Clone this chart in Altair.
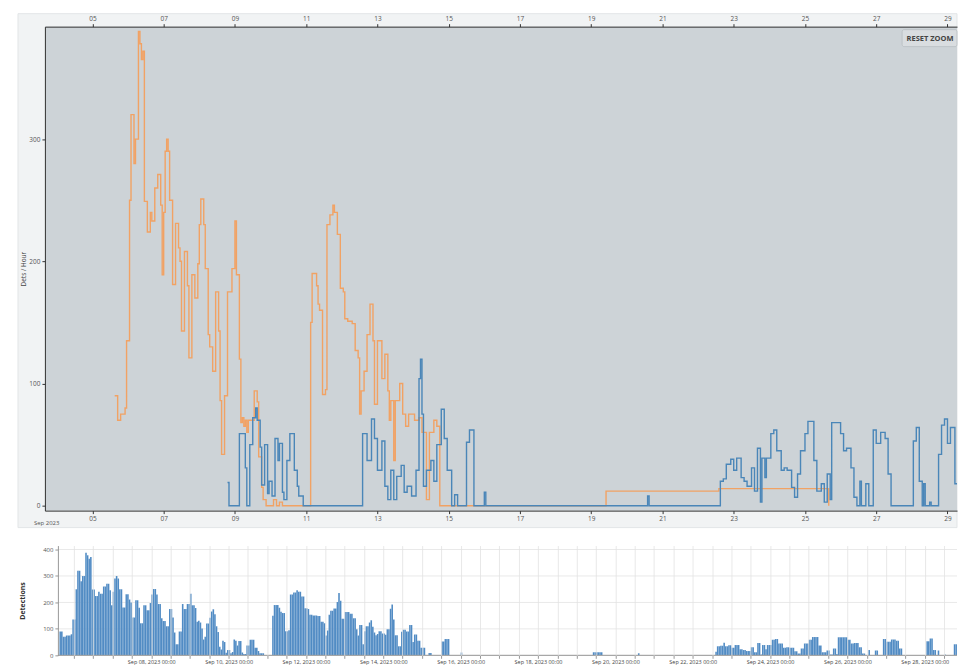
import altair as alt
import pandas as pd

YEAR = "2023-"

orange_t = [
    "09-05 15:00", "09-05 17:00", "09-05 19:00", "09-05 22:00", "09-05 23:00",
    "09-06 01:00", "09-06 02:00", "09-06 04:00", "09-06 05:00", "09-06 07:00", "09-06 08:00", "09-06 09:00", "09-06 10:00", "09-06 11:00",
    "09-06 13:00", "09-06 15:00", "09-06 16:00", "09-06 18:00", "09-06 20:00", "09-06 22:00", "09-06 23:00",
    "09-07 00:00", "09-07 01:00", "09-07 02:00", "09-07 03:00", "09-07 04:00", "09-07 06:00", "09-07 08:00", "09-07 10:00",
    "09-07 11:00", "09-07 12:00", "09-07 14:00", "09-07 16:00", "09-07 17:00", "09-07 19:00", "09-07 21:00", "09-07 23:00",
    "09-08 00:00", "09-08 01:00", "09-08 03:00", "09-08 04:00", "09-08 06:00", "09-08 07:00", "09-08 09:00", "09-08 11:00",
    "09-08 13:00", "09-08 14:00", "09-08 15:00", "09-08 17:00", "09-08 19:00", "09-08 22:00",
    "09-09 00:00", "09-09 01:00", "09-09 03:00", "09-09 04:00", "09-09 05:00", "09-09 06:00", "09-09 07:00", "09-09 08:00",
    "09-09 09:00", "09-09 13:00", "09-09 15:00", "09-09 16:00", "09-09 18:00", "09-09 19:00", "09-09 21:00",
    "09-10 02:00", "09-10 04:00", "09-10 06:00", "09-10 08:00",
    "09-11 03:00", "09-11 04:00", "09-11 07:00", "09-11 08:00", "09-11 09:00", "09-11 11:00", "09-11 13:00", "09-11 14:00",
    "09-11 16:00", "09-11 18:00", "09-11 19:00", "09-11 21:00", "09-11 23:00",
    "09-12 01:00", "09-12 02:00", "09-12 04:00", "09-12 07:00", "09-12 09:00", "09-12 11:00", "09-12 12:00", "09-12 13:00",
    "09-12 15:00", "09-12 17:00", "09-12 19:00", "09-12 21:00", "09-12 22:00",
    "09-13 00:00", "09-13 03:00", "09-13 05:00", "09-13 07:00", "09-13 08:00", "09-13 09:00", "09-13 11:00", "09-13 12:00",
    "09-13 15:00", "09-13 17:00", "09-13 19:00", "09-13 21:00",
    "09-14 01:00", "09-14 04:00", "09-14 06:00", "09-14 09:00", "09-14 11:00", "09-14 14:00", "09-14 16:00", "09-14 18:00",
    "09-19 10:00", "09-22 14:00", "09-25 16:00",
]
orange_v = [
    90, 70, 75, 80, 135,
    250, 320, 280, 300, 388, 378, 365, 372, 249,
    224, 240, 233, 260, 271, 246, 189,
    240, 290, 300, 290, 250, 181, 231, 211,
    200, 143, 208, 180, 121, 189, 170, 198,
    230, 251, 230, 194, 140, 130, 110, 175,
    143, 86, 42, 90, 175, 194,
    233, 189, 120, 68, 72, 65, 70, 60,
    70, 94, 85, 40, 15, 5, 0,
    5, 0, 3, 0,
    150, 190, 180, 165, 160, 91, 95, 230,
    238, 246, 240, 222, 178,
    175, 153, 151, 149, 127, 121, 75, 94,
    110, 140, 165, 135, 83,
    135, 104, 124, 94, 70, 86, 37, 86,
    100, 75, 65, 75,
    70, 72, 60, 5, 60, 70, 65, 0,
    12, 14, 0,
]

blue_t = [
    "09-08 19:00", "09-08 20:00", "09-09 03:00", "09-09 07:00", "09-09 08:00", "09-09 10:00", "09-09 12:00",
    "09-09 14:00", "09-09 15:00", "09-09 17:00", "09-09 18:00", "09-09 20:00", "09-09 22:00", "09-09 23:00",
    "09-10 01:00", "09-10 03:00", "09-10 05:00", "09-10 06:00", "09-10 08:00", "09-10 09:00", "09-10 11:00",
    "09-10 13:00", "09-10 16:00", "09-10 18:00", "09-10 19:00", "09-10 22:00",
    "09-12 14:00", "09-12 17:00", "09-12 20:00", "09-12 22:00",
    "09-13 00:00", "09-13 03:00", "09-13 05:00", "09-13 07:00", "09-13 09:00", "09-13 11:00", "09-13 13:00",
    "09-13 16:00", "09-13 18:00", "09-13 20:00", "09-13 23:00",
    "09-14 02:00", "09-14 04:00", "09-14 05:00", "09-14 06:00", "09-14 07:00", "09-14 09:00", "09-14 12:00",
    "09-14 14:00", "09-14 16:00", "09-14 19:00", "09-14 21:00", "09-14 23:00",
    "09-15 02:00", "09-15 04:00", "09-15 06:00", "09-15 12:00", "09-15 14:00", "09-15 17:00",
    "09-16 00:00", "09-16 01:00", "09-20 14:00", "09-20 15:00",
    "09-22 15:00", "09-22 17:00", "09-22 19:00", "09-22 22:00",
    "09-23 00:00", "09-23 02:00", "09-23 05:00", "09-23 07:00", "09-23 09:00", "09-23 12:00", "09-23 14:00",
    "09-23 16:00", "09-23 18:00", "09-23 19:00", "09-23 21:00", "09-23 22:00",
    "09-24 01:00", "09-24 03:00", "09-24 05:00", "09-24 08:00", "09-24 10:00", "09-24 12:00", "09-24 15:00",
    "09-24 17:00", "09-24 19:00", "09-24 21:00",
    "09-25 00:00", "09-25 02:00", "09-25 06:00", "09-25 08:00", "09-25 11:00", "09-25 13:00", "09-25 15:00",
    "09-25 17:00", "09-25 18:00",
    "09-26 00:00", "09-26 02:00", "09-26 04:00", "09-26 07:00", "09-26 09:00", "09-26 11:00", "09-26 13:00",
    "09-26 14:00", "09-26 17:00", "09-26 19:00", "09-26 22:00",
    "09-27 00:00", "09-27 03:00", "09-27 06:00", "09-27 08:00", "09-27 10:00",
    "09-28 01:00", "09-28 03:00", "09-28 05:00", "09-28 07:00", "09-28 08:00", "09-28 09:00", "09-28 12:00",
    "09-28 13:00", "09-28 18:00", "09-28 20:00", "09-28 22:00",
    "09-29 00:00", "09-29 02:00", "09-29 05:00", "09-29 07:00", "09-29 09:00", "09-29 11:00",
]
blue_v = [
    19, 0, 59, 31, 0, 50, 72,
    80, 70, 48, 17, 50, 10, 20,
    8, 55, 37, 51, 11, 5, 37,
    59, 29, 16, 8, 0,
    59, 37, 71, 55,
    29, 53, 16, 5, 29, 5, 24,
    33, 11, 16, 8,
    29, 104, 120, 75, 16, 29, 37,
    20, 50, 79, 55, 29,
    0, 9, 0, 52, 62, 0,
    11, 0, 8, 0,
    20, 22, 34, 38,
    29, 39, 23, 20, 16, 31, 12,
    47, 3, 39, 23, 39,
    59, 62, 45, 29, 31, 29, 15,
    7, 26, 45,
    59, 69, 37, 12, 18, 3, 26,
    5, 68,
    59, 45, 47, 31, 7, 0, 20,
    0, 18, 0, 62,
    51, 60, 55, 26, 0,
    53, 64, 20, 0, 18, 0, 3,
    0, 42, 66, 71,
    51, 64, 18, 7, 15, 15,
]

top_ticks_days = [5, 7, 9, 11, 13, 15, 17, 19, 21, 23, 25, 27, 29]
bottom_label_days = [8, 10, 12, 14, 16, 18, 20, 22, 24, 26, 28]
y_ticks_top = [0, 100, 200, 300]
y_ticks_bottom = [0, 100, 200, 300, 400]

ORANGE = "#f1a264"
BLUE = "#4a86b8"
BAR = "#4a87c2"


def to_df(times, vals, name):
    return pd.DataFrame({
        "time": pd.to_datetime([YEAR + t for t in times]),
        "value": vals,
        "series": name,
    })


orange = to_df(orange_t, orange_v, "orange")
blue = to_df(blue_t, blue_v, "blue")

# hourly detections = both series summed per hour
idx = pd.date_range("2023-09-05 14:00", "2023-09-29 11:00", freq="h")


def hourly(df):
    s = df.set_index("time")["value"].resample("h").ffill(limit=5)
    return s.reindex(idx).fillna(0)


tot = hourly(orange) + hourly(blue)
bars = pd.DataFrame({"time": idx, "time2": idx + pd.Timedelta(hours=1), "count": tot.values})
bars = bars[bars["count"] > 0]

W1, H1 = 914, 485
W2, H2 = 914, 110
OFF = 13  # bottom plot's y axis sits 13px right of the top one

FONT = "Open Sans"

top_scale = alt.Scale(
    domain=[alt.DateTime(year=2023, month=9, date=3, hours=16),
            alt.DateTime(year=2023, month=9, date=29, hours=6, minutes=25)],
    nice=False,
)
top_vals = [alt.DateTime(year=2023, month=9, date=d) for d in top_ticks_days]
yscale_top = alt.Scale(domain=[-4, 392], nice=False)

axis_common = dict(labelFontSize=6.5, labelColor="#555", labelFont=FONT, tickColor="#333",
                   domainColor="#333", tickSize=3, grid=False, zindex=1, labelPadding=2)

x_bottom_axis = alt.Axis(orient="bottom", values=top_vals, format="%d", title=None, **axis_common)
x_top_axis = alt.Axis(orient="top", values=top_vals, format="%d", title=None, **axis_common)
y_axis_top = alt.Axis(values=y_ticks_top, title="Dets / Hour", titleFontSize=6.5, titleFontWeight="normal",
                      titleColor="#444", titleFont=FONT, titlePadding=2, **axis_common)

one = pd.DataFrame({"k": [0]})

panel = alt.Chart(one).mark_rect(fill="#f1f3f4", stroke="#e2e5e7", clip=False).encode(
    x=alt.value(-27), x2=alt.value(W1), y=alt.value(-13), y2=alt.value(H1 + 17))
plotbg = alt.Chart(one).mark_rect(fill="#cdd3d7").encode(
    x=alt.value(0), x2=alt.value(W1), y=alt.value(0), y2=alt.value(H1))

orange_line = alt.Chart(orange).mark_line(interpolate="step-after", strokeWidth=1.4, clip=True,
                                           color=ORANGE).encode(
    x=alt.X("time:T", scale=top_scale, axis=x_top_axis),
    y=alt.Y("value:Q", scale=yscale_top, axis=y_axis_top),
)
blue_line = alt.Chart(blue).mark_line(interpolate="step-after", strokeWidth=1.4, clip=True,
                                       color=BLUE).encode(
    x=alt.X("time:T", scale=top_scale, axis=x_bottom_axis),
    y=alt.Y("value:Q", scale=yscale_top, axis=y_axis_top),
)

sep_label = alt.Chart(pd.DataFrame({"t": ["Sep 2023"]})).mark_text(
    align="left", baseline="middle", fontSize=6, color="#555", font=FONT).encode(
    x=alt.value(-11), y=alt.value(H1 + 12), text="t:N")

btn = alt.Chart(one).mark_rect(fill="#d9dde0", stroke="#b8bec2", strokeWidth=0.8, cornerRadius=2).encode(
    x=alt.value(W1 - 55), x2=alt.value(W1), y=alt.value(3), y2=alt.value(20))
btn_text = alt.Chart(pd.DataFrame({"t": ["RESET ZOOM"]})).mark_text(
    align="center", baseline="middle", fontSize=7.5, fontWeight="bold", color="#444", font=FONT).encode(
    x=alt.value(W1 - 27), y=alt.value(12), text="t:N")

top = alt.layer(panel, plotbg, orange_line, blue_line, sep_label, btn, btn_text).resolve_axis(
    x="independent").properties(width=W1, height=H1)

# bottom bar chart
bot_scale = alt.Scale(
    domain=[alt.DateTime(year=2023, month=9, date=5, hours=6),
            alt.DateTime(year=2023, month=9, date=28, hours=20)],
    nice=False,
)
bot_yscale = alt.Scale(domain=[0, 415], nice=False)
grid_vals = []
for d in range(6, 29):
    grid_vals.append(alt.DateTime(year=2023, month=9, date=d, hours=0))
    grid_vals.append(alt.DateTime(year=2023, month=9, date=d, hours=12))
label_days_expr = "indexof([" + ",".join(str(d) for d in bottom_label_days) + "], date(datum.value)) >= 0"

x_axis_bot = alt.Axis(
    values=grid_vals, title=None, grid=True, gridColor="#e2e2e2", gridWidth=0.8, domain=False,
    labelExpr="(hours(datum.value) == 0 && " + label_days_expr + ") ? timeFormat(datum.value, '%b %d, %Y %H:%M') : ''",
    labelFontSize=5.5, labelColor="#444", labelFont=FONT, labelOverlap=False, labelPadding=1,
    tickSize=3, tickColor="#999", zindex=1,
)
y_axis_bot = alt.Axis(
    values=y_ticks_bottom, title="Detections", titleFontSize=7, titleFontWeight="bold", titleColor="#333",
    titleFont=FONT, titlePadding=17, labelFontSize=6, labelColor="#555", labelFont=FONT, offset=-OFF,
    grid=False, tickSize=3, tickColor="#999", domainColor="#999", zindex=1,
)

ygrid = alt.Chart(pd.DataFrame({"count": y_ticks_bottom})).mark_rule(color="#e2e2e2", strokeWidth=0.8).encode(
    x=alt.value(OFF), x2=alt.value(W2), y=alt.Y("count:Q", scale=bot_yscale, axis=y_axis_bot))

baseline = alt.Chart(one).mark_rule(color="#999", strokeWidth=1).encode(
    x=alt.value(OFF), x2=alt.value(W2), y=alt.value(H2))

bar_layer = alt.Chart(bars).mark_rect(color=BAR, clip=True, stroke="#ffffff", strokeWidth=0.2,
                                       strokeOpacity=0.5).encode(
    x=alt.X("time:T", scale=bot_scale, axis=x_axis_bot),
    x2="time2:T",
    y=alt.Y("count:Q", scale=bot_yscale, axis=y_axis_bot),
    y2=alt.datum(0),
)

bottom = alt.layer(ygrid, bar_layer, baseline).properties(width=W2, height=H2)

chart = alt.vconcat(top, bottom, spacing=17).properties(
    padding={"left": 9, "top": 4, "right": 0, "bottom": 0},
    background="white",
).configure_view(stroke=None)

chart.save("out.html", embed_options={"renderer": "svg", "actions": False})
